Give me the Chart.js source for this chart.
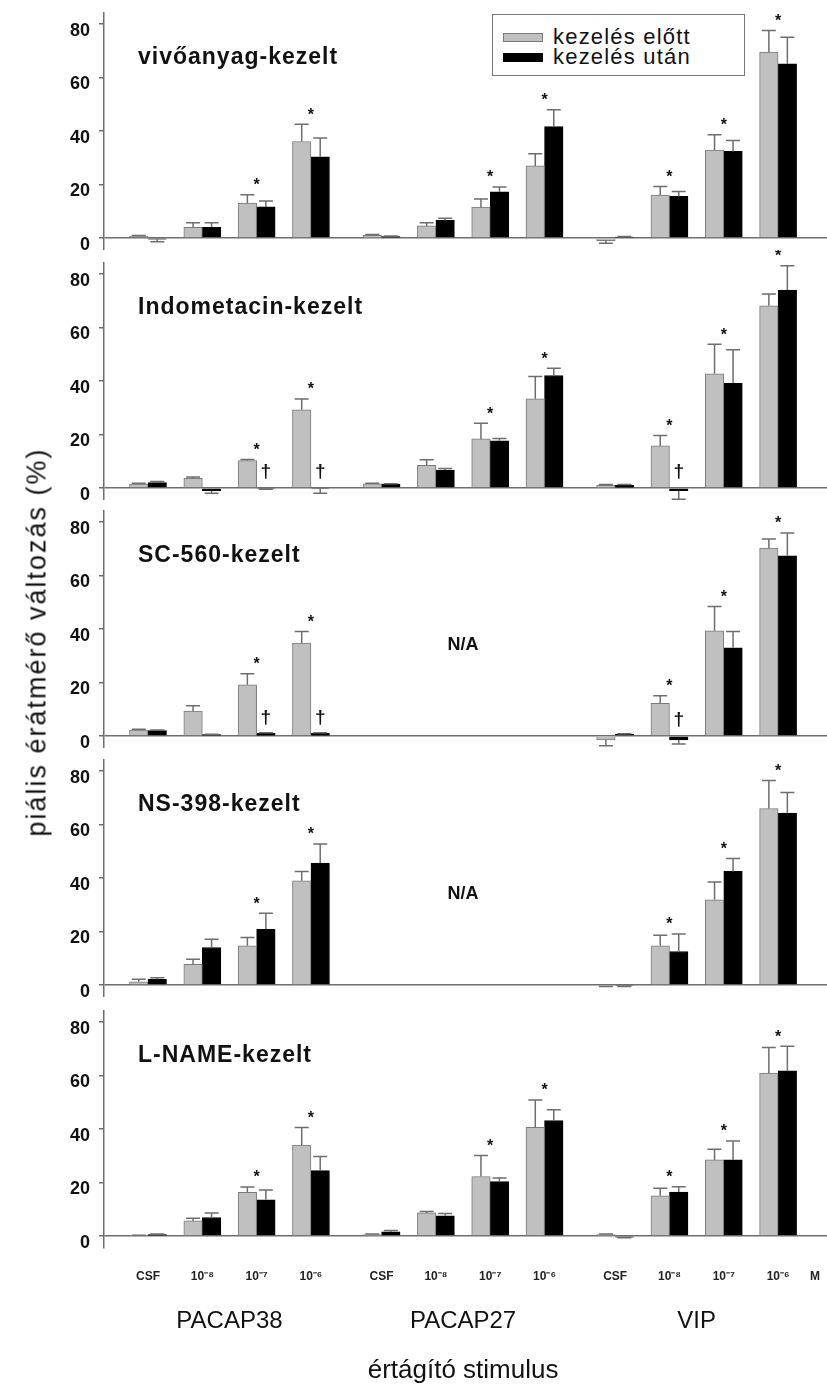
<!DOCTYPE html>
<html lang="hu">
<head>
<meta charset="utf-8">
<title>piális érátmérő változás</title>
<script src="https://cdn.jsdelivr.net/npm/chart.js@4.4.1/dist/chart.umd.min.js"></script>
<style>
  html, body { margin: 0; padding: 0; background: #fff; }
  body {
    width: 827px; height: 1389px; position: relative; overflow: hidden;
    font-family: "Liberation Sans", Arial, sans-serif; color: #111;
  }
  canvas.panel { position: absolute; left: 0; }
  .legend {
    position: absolute; left: 492px; top: 14px; width: 253px; height: 62px;
    border: 1.5px solid #777; box-sizing: border-box; background: #fff; z-index: 2;
  }
  .legend .row {
    position: absolute; left: 10px; display: flex; align-items: center;
    font-size: 22px; line-height: 20px; letter-spacing: 1.2px; white-space: nowrap;
  }
  .legend .swatch { width: 40px; height: 9px; margin-right: 10px; box-sizing: border-box; }
  .legend .gray { background: #c0c0c0; border: 1px solid #7a7a7a; }
  .legend .black { background: #000; }
  .y-title {
    position: absolute; left: 37px; top: 642px; z-index: 2;
    transform: translate(-50%, -50%) rotate(-90deg);
    white-space: nowrap; font-size: 27px; letter-spacing: 2px;
  }
</style>
</head>
<body>
<div class="legend">
  <div class="row" style="top:12px"><span class="swatch gray"></span>kezelés előtt</div>
  <div class="row" style="top:32px"><span class="swatch black"></span>kezelés után</div>
</div>
<div class="y-title">piális érátmérő változás (%)</div>

<script>
// === Data ===
const groupNames = ["PACAP38", "PACAP27", "VIP"];
const doseLabels = ["CSF", "10⁻⁸", "10⁻⁷", "10⁻⁶"];
const unitLabel = "M";
const yTicks = [0, 20, 40, 60, 80];
const panelTitles = ["vivőanyag-kezelt", "Indometacin-kezelt", "SC-560-kezelt", "NS-398-kezelt", "L-NAME-kezelt"];
const legendLabels = ["kezelés előtt", "kezelés után"];

// vivőanyag
const vehBefore = [0.6, 4.0, 13.0, 36.0, 1.0, 4.5, 11.5, 26.9, -1.0, 16.0, 32.8, 69.4];
const vehBeforeErr = [0.3, 1.7, 3.1, 6.5, 0.3, 1.2, 3.0, 4.5, 1.0, 3.2, 5.7, 8.1];
const vehAfter = [-0.5, 4.0, 11.6, 30.3, 0.5, 6.6, 17.2, 41.6, 0.3, 15.5, 32.3, 65.0];
const vehAfterErr = [0.9, 1.7, 2.2, 7.0, 0.2, 0.8, 1.8, 6.3, 0.2, 1.8, 4.1, 9.9];
const vehStars = [2, 3, 6, 7, 9, 10, 11];

// Indometacin
const indoBefore = [1.4, 3.6, 10.2, 29.2, 1.5, 8.4, 18.3, 33.3, 1.0, 15.7, 42.6, 68.0];
const indoBeforeErr = [0.4, 0.5, 0.4, 4.0, 0.3, 2.1, 5.9, 8.3, 0.3, 3.9, 11.1, 4.4];
const indoAfter = [2.0, -1.0, -0.3, -0.3, 1.4, 6.7, 17.6, 42.0, 1.0, -1.0, 39.1, 73.9];
const indoAfterErr = [0.4, 1.0, 0.2, 1.7, 0.2, 0.6, 0.9, 2.7, 0.3, 3.2, 12.5, 9.1];
const indoStars = [2, 3, 6, 7, 9, 10, 11];
const indoDaggers = [2, 3, 9];

// SC-560 (PACAP27: N/A)
const scBefore = [2.2, 9.3, 19.1, 34.7, null, null, null, null, -1.5, 12.2, 39.3, 70.2];
const scBeforeErr = [0.3, 2.0, 4.1, 4.3, 0, 0, 0, 0, 2.2, 2.8, 9.0, 3.3];
const scAfter = [2.0, 0.5, 1.0, 1.0, null, null, null, null, 0.6, -1.5, 32.9, 67.3];
const scAfterErr = [0.2, 0.1, 0.2, 0.2, 0, 0, 0, 0, 0.2, 1.5, 6.1, 8.5];
const scStars = [2, 3, 9, 10, 11];
const scDaggers = [2, 3, 9];

// NS-398 (PACAP27: N/A)
const nsBefore = [1.2, 7.7, 14.6, 38.9, null, null, null, null, -0.3, 14.6, 31.8, 65.9];
const nsBeforeErr = [0.9, 1.9, 3.1, 3.5, 0, 0, 0, 0, 0.3, 4.0, 6.6, 10.4];
const nsAfter = [2.1, 14.0, 20.8, 45.5, null, null, null, null, -0.3, 12.5, 42.4, 64.2];
const nsAfterErr = [0.6, 3.1, 6.0, 7.1, 0, 0, 0, 0, 0.3, 6.5, 4.8, 7.7];
const nsStars = [2, 3, 9, 10, 11];

// L-NAME
const lnBefore = [0.2, 5.6, 16.3, 33.9, 0.5, 8.6, 22.2, 40.6, 0.5, 15.0, 28.4, 60.8];
const lnBeforeErr = [0.1, 1.0, 2.0, 6.6, 0.2, 0.5, 7.8, 10.2, 0.2, 2.8, 4.0, 9.6];
const lnAfter = [0.5, 6.9, 13.5, 24.4, 1.5, 7.5, 20.3, 43.1, -0.5, 16.4, 28.4, 61.7];
const lnAfterErr = [0.2, 1.7, 3.7, 5.3, 0.5, 0.9, 1.3, 4.0, 0.2, 2.0, 7.1, 9.1];
const lnStars = [2, 3, 6, 7, 9, 10, 11];

const panels = [
  { title: panelTitles[0], before: vehBefore, beforeErr: vehBeforeErr, after: vehAfter, afterErr: vehAfterErr, stars: vehStars, daggers: [], na: null },
  { title: panelTitles[1], before: indoBefore, beforeErr: indoBeforeErr, after: indoAfter, afterErr: indoAfterErr, stars: indoStars, daggers: indoDaggers, na: null },
  { title: panelTitles[2], before: scBefore, beforeErr: scBeforeErr, after: scAfter, afterErr: scAfterErr, stars: scStars, daggers: scDaggers, na: 1 },
  { title: panelTitles[3], before: nsBefore, beforeErr: nsBeforeErr, after: nsAfter, afterErr: nsAfterErr, stars: nsStars, daggers: [], na: 1 },
  { title: panelTitles[4], before: lnBefore, beforeErr: lnBeforeErr, after: lnAfter, afterErr: lnAfterErr, stars: lnStars, daggers: [], na: null },
];

// === Layout ===
const CLUSTER_GAP = 0.3;
const X_MIN = -0.81, X_MAX = 12.5;
const Y_MIN = -4.5, Y_MAX = 84;
const AXIS_GRAY = "#6e6e6e";
const panelBoxes = [
  { top: 0, height: 250 },
  { top: 250, height: 250 },
  { top: 498, height: 250 },
  { top: 747, height: 250 },
  { top: 998, height: 391 },
];

const xPos = [];
groupNames.forEach((g, c) => {
  doseLabels.forEach((d, k) => xPos.push(c * (doseLabels.length + CLUSTER_GAP) + k));
});
const clusterCenter = (c) => c * (doseLabels.length + CLUSTER_GAP) + (doseLabels.length - 1) / 2;
const xTickValues = xPos.concat([X_MAX - 0.22]);
const xTickLabels = groupNames.flatMap(() => doseLabels).concat([unitLabel]);

Chart.defaults.font.family = '"Liberation Sans", Arial, sans-serif';
Chart.defaults.color = "#111";

// === Error bars, stars, daggers, panel text ===
const panelMarks = {
  id: "panelMarks",
  afterDatasetsDraw(chart, args, opts) {
    const { ctx, chartArea, scales: { x, y } } = chart;
    const p = opts.panel;
    const values = [p.before, p.after];
    const errs = [p.beforeErr, p.afterErr];
    ctx.save();

    // error bars
    ctx.strokeStyle = AXIS_GRAY;
    ctx.lineWidth = 1.5;
    values.forEach((vals, di) => {
      const meta = chart.getDatasetMeta(di);
      meta.data.forEach((bar, i) => {
        const v = vals[i];
        if (v === null) return;
        const end = v < 0 ? v - errs[di][i] : v + errs[di][i];
        const y0 = y.getPixelForValue(v);
        const y1 = y.getPixelForValue(end);
        ctx.beginPath();
        ctx.moveTo(bar.x, y0);
        ctx.lineTo(bar.x, y1);
        ctx.moveTo(bar.x - 7, y1);
        ctx.lineTo(bar.x + 7, y1);
        ctx.stroke();
      });
    });

    // significance stars
    ctx.fillStyle = "#111";
    ctx.textAlign = "center";
    ctx.textBaseline = "middle";
    ctx.font = 'bold 16px "Liberation Sans", Arial, sans-serif';
    p.stars.forEach((g) => {
      const top = Math.max(0, ...values.map((vals, di) => vals[g] > 0 ? vals[g] + errs[di][g] : 0));
      ctx.fillText("*", x.getPixelForValue(xPos[g]), y.getPixelForValue(top) - 9);
    });

    // daggers over the "after" bar
    ctx.font = 'bold 19px "Liberation Sans", Arial, sans-serif';
    const afterMeta = chart.getDatasetMeta(1);
    p.daggers.forEach((g) => {
      const bar = afterMeta.data[g];
      ctx.fillText("†", bar.x, y.getPixelForValue(Math.max(0, p.after[g])) - 16);
    });

    // panel title
    ctx.textAlign = "left";
    ctx.font = 'bold 23px "Liberation Sans", Arial, sans-serif';
    ctx.letterSpacing = "1px";
    ctx.fillText(p.title, chartArea.left + 34, chartArea.top + 45);
    ctx.letterSpacing = "0px";

    // N/A for the missing group
    if (p.na !== null) {
      ctx.textAlign = "center";
      ctx.font = 'bold 18px "Liberation Sans", Arial, sans-serif';
      ctx.fillText("N/A", x.getPixelForValue(clusterCenter(p.na)), y.getPixelForValue(34));
    }

    // group names + x title under the last panel
    if (opts.footer) {
      ctx.textAlign = "center";
      ctx.font = '24px "Liberation Sans", Arial, sans-serif';
      groupNames.forEach((name, c) => {
        ctx.fillText(name, x.getPixelForValue(clusterCenter(c)), chartArea.bottom + 73);
      });
      ctx.font = '26px "Liberation Sans", Arial, sans-serif';
      ctx.fillText("értágító stimulus", x.getPixelForValue(clusterCenter(1)), chartArea.bottom + 123);
    }
    ctx.restore();
  },
};

// === Build the five panels ===
panels.forEach((p, idx) => {
  const box = panelBoxes[idx];
  const isLast = idx === panels.length - 1;
  const canvas = document.createElement("canvas");
  canvas.className = "panel";
  canvas.width = 827;
  canvas.height = box.height;
  canvas.style.top = box.top + "px";
  document.body.appendChild(canvas);

  new Chart(canvas, {
    type: "bar",
    data: {
      datasets: [
        {
          label: legendLabels[0],
          data: p.before.map((v, i) => ({ x: xPos[i], y: v })),
          backgroundColor: "#c0c0c0",
          borderColor: "#7a7a7a",
          borderWidth: 1,
          barThickness: 18.5,
        },
        {
          label: legendLabels[1],
          data: p.after.map((v, i) => ({ x: xPos[i], y: v })),
          backgroundColor: "#000",
          borderColor: "#000",
          borderWidth: 1,
          barThickness: 18.5,
        },
      ],
    },
    options: {
      responsive: false,
      animation: false,
      events: [],
      layout: { padding: { top: 13, left: 0, right: 0, bottom: 0 } },
      plugins: {
        legend: { display: false },
        tooltip: { enabled: false },
        panelMarks: { panel: p, footer: isLast },
      },
      scales: {
        x: {
          type: "linear",
          min: X_MIN,
          max: X_MAX,
          offset: false,
          display: isLast,
          grid: { display: false, drawTicks: false },
          border: { display: false },
          afterBuildTicks: (axis) => { axis.ticks = xTickValues.map((v) => ({ value: v })); },
          afterFit: (axis) => {
            axis.height = isLast ? 141 : 0;
            axis.paddingLeft = 0;
            axis.paddingRight = 0;
          },
          ticks: {
            autoSkip: false,
            maxRotation: 0,
            padding: 21,
            color: "#222",
            font: { size: 12, weight: "bold" },
            callback: (v) => xTickLabels[xTickValues.indexOf(v)],
          },
        },
        y: {
          min: Y_MIN,
          max: Y_MAX,
          afterBuildTicks: (axis) => { axis.ticks = yTicks.map((v) => ({ value: v })); },
          afterFit: (axis) => {
            axis.width = 104;
            axis.paddingTop = 0;
            axis.paddingBottom = 0;
          },
          grid: {
            color: (c) => (c.tick && c.tick.value === 0 ? AXIS_GRAY : "rgba(0,0,0,0)"),
            lineWidth: 1.5,
            tickColor: AXIS_GRAY,
            tickWidth: 1.5,
            tickLength: 5,
          },
          border: { display: true, color: AXIS_GRAY, width: 1.5 },
          ticks: {
            padding: 9,
            labelOffset: 7,
            color: "#111",
            font: { size: 18, weight: "bold" },
          },
        },
      },
    },
    plugins: [panelMarks],
  });
});
</script>
</body>
</html>
